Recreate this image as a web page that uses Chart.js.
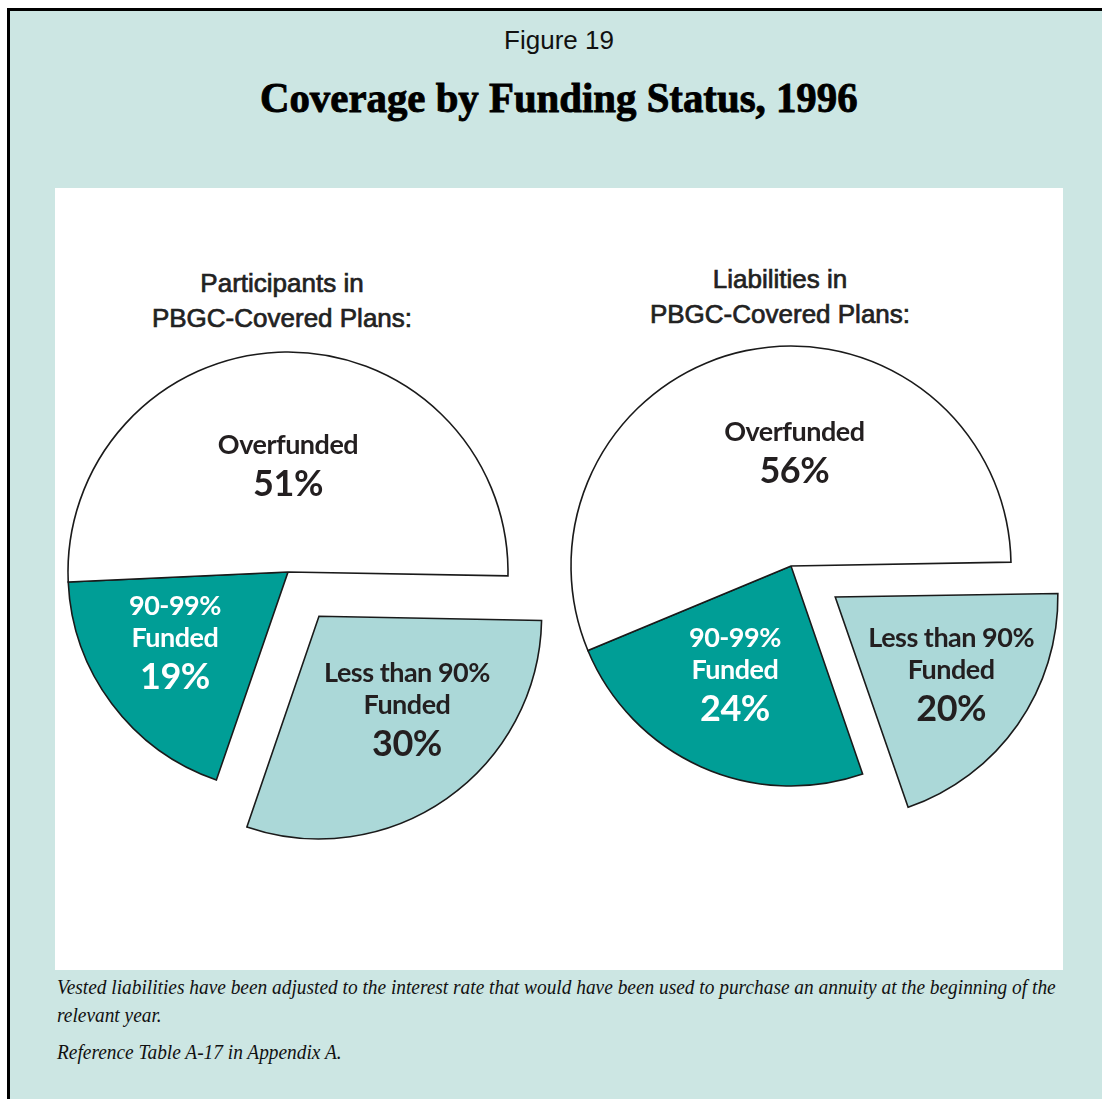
<!DOCTYPE html>
<html>
<head>
<meta charset="utf-8">
<title>Figure 19 - Coverage by Funding Status, 1996</title>
<script src="https://cdn.jsdelivr.net/npm/chart.js@4.4.1/dist/chart.umd.min.js"></script>
<style>
  html, body { margin: 0; padding: 0; width: 1102px; height: 1099px; overflow: hidden; background: #fff; }
  #frame { position: absolute; left: 7px; top: 8px; width: 1200px; height: 1200px; box-sizing: border-box;
           border-left: 3px solid #000; border-top: 3px solid #000; background: #cce6e3; }
  #panel { position: absolute; left: 55px; top: 188px; width: 1008px; height: 782px; background: #fff; }
  .txt { position: absolute; white-space: nowrap; color: #111; }
  #figno { left: 359px; top: 27px; width: 400px; text-align: center; font: 26px 'Liberation Sans', Arial, sans-serif; line-height: 26px; }
  #title { left: 159px; top: 73px; width: 800px; text-align: center; line-height: 42px; }
  #title span { display: inline-block; font: bold 43px 'Liberation Serif', 'Times New Roman', serif; transform-origin: 50% 50%;
                color: #000; -webkit-text-stroke: 0.9px #000; }
  .sub { width: 400px; text-align: center; font: 26px 'Liberation Sans', Arial, sans-serif; line-height: 35px;
         color: #222; -webkit-text-stroke: 0.7px #222; }
  #subLeft { left: 82px; top: 266px; }
  #subRight { left: 580px; top: 262px; }
  .note { left: 57px; font: italic 20px 'Liberation Serif', 'Times New Roman', serif; line-height: 20px; transform-origin: 0 0; color: #111; }
  canvas { position: absolute; }
  #pieLeft { left: -12px; top: 272px; }
  #pieRight { left: 491px; top: 266px; }
</style>
</head>
<body>
<div id="frame"></div>
<div id="panel"></div>
<div class="txt" id="figno">Figure 19</div>
<div class="txt" id="title"><span>Coverage by Funding Status, 1996</span></div>
<div class="txt sub" id="subLeft">Participants in<br>PBGC-Covered Plans:</div>
<div class="txt sub" id="subRight">Liabilities in<br>PBGC-Covered Plans:</div>
<canvas id="pieLeft" width="600" height="600"></canvas>
<canvas id="pieRight" width="600" height="600"></canvas>
<div class="txt note" id="note1" style="top:977px">Vested liabilities have been adjusted to the interest rate that would have been used to purchase an annuity at the beginning of the</div>
<div class="txt note" id="note2" style="top:1005px">relevant year.</div>
<div class="txt note" id="note3" style="top:1042px">Reference Table A-17 in Appendix A.</div>

<script>
// Slices in clockwise order, starting near 3 o'clock
const categories = ['Less than 90% Funded', '90-99% Funded', 'Overfunded'];
const categoryLines = [['Less than 90%', 'Funded'], ['90-99%', 'Funded'], ['Overfunded']];
const participantsValues = [30, 19, 51];
const liabilitiesValues = [20, 24, 56];

const sliceColors = ['#abd8d8', '#009e96', '#ffffff'];
const labelColors = ['#231f20', '#ffffff', '#231f20'];
const explodePx = [54, 0, 0];

// label anchor (first baseline) relative to the slice centre, in units of the radius
const participantsPlace = [[0.40, 0.30], [-0.514, 0.195], [0, -0.536]];
const liabilitiesPlace = [[0.527, 0.227], [-0.255, 0.368], [0.015, -0.568]];

const sliceLabels = {
    id: 'sliceLabels',
    afterDatasetsDraw(chart, args, opts) {
        const ctx = chart.ctx;
        const meta = chart.getDatasetMeta(0);
        const values = chart.data.datasets[0].data;
        meta.data.forEach(function(arc, i) {
            const p = arc.getProps(['x', 'y', 'startAngle', 'endAngle', 'outerRadius'], true);
            const mid = (p.startAngle + p.endAngle) / 2;
            const shift = (arc.options.offset || 0) / 4;
            const ax = p.x + Math.cos(mid) * shift + opts.place[i][0] * p.outerRadius;
            const ay = p.y + Math.sin(mid) * shift + opts.place[i][1] * p.outerRadius;
            const lines = categoryLines[i];

            ctx.save();
            ctx.textAlign = 'center';
            ctx.textBaseline = 'alphabetic';
            ctx.fillStyle = labelColors[i];
            ctx.letterSpacing = '-0.5px';
            ctx.font = '700 27px Lato, "Open Sans", sans-serif';
            lines.forEach(function(t, k) {
                ctx.fillText(t, ax, ay + k * 32);
            });
            ctx.font = '700 36px Lato, "Open Sans", sans-serif';
            ctx.fillText(values[i] + '%', ax, ay + (lines.length - 1) * 32 + 42);
            ctx.restore();
        });
    }
};

function makePie(canvasId, values, rotation, place) {
    const ctx = document.getElementById(canvasId).getContext('2d');
    return new Chart(ctx, {
        type: 'pie',
        data: {
            labels: categories,
            datasets: [{
                data: values,
                backgroundColor: sliceColors,
                borderColor: '#1a1a1a',
                borderWidth: 1.6,
                borderJoinStyle: 'miter',
                offset: explodePx.map(function(d) { return d * 4; }),
                hoverOffset: 0,
                radius: 220
            }]
        },
        options: {
            responsive: false,
            animation: false,
            rotation: rotation,
            layout: { padding: 0 },
            plugins: {
                legend: { display: false },
                tooltip: { enabled: false },
                sliceLabels: { place: place }
            }
        },
        plugins: [sliceLabels]
    });
}

makePie('pieLeft', participantsValues, 91, participantsPlace);
makePie('pieRight', liabilitiesValues, 89, liabilitiesPlace);

// squeeze the title and notes to the widths used in the figure
const titleSpan = document.querySelector('#title span');
titleSpan.style.transform = 'scaleX(' + (598 / titleSpan.offsetWidth) + ')';

const noteScale = 999 / document.getElementById('note1').offsetWidth;
['note1', 'note2', 'note3'].forEach(function(id) {
    document.getElementById(id).style.transform = 'scaleX(' + noteScale + ')';
});
</script>
</body>
</html>
